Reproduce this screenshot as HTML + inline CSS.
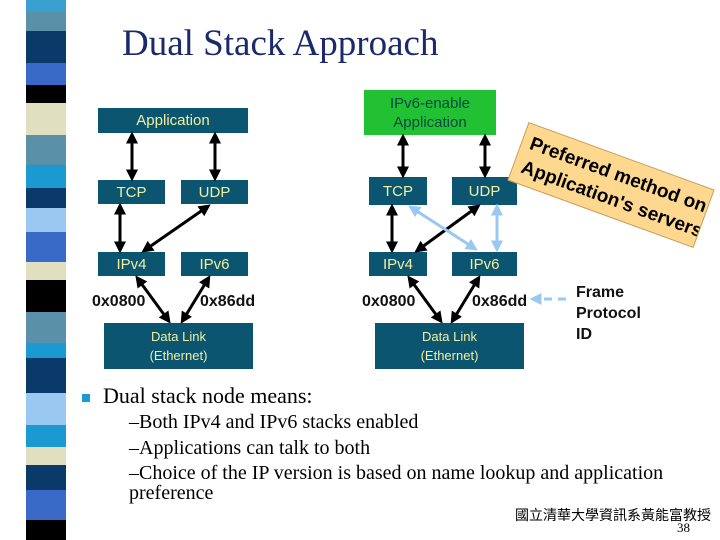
<!DOCTYPE html>
<html><head><meta charset="utf-8"><style>
body{margin:0;width:720px;height:540px;overflow:hidden;background:#fff;position:relative;font-family:"Liberation Sans",sans-serif}
.s{position:absolute;left:26px;width:40px}
.b{position:absolute;background:#0b5570;color:#f0f0a0;font-size:15px;display:flex;align-items:center;justify-content:center;text-align:center;line-height:19px}
.l{position:absolute;font-weight:bold;font-size:16px;color:#111}
.t{position:absolute;font-family:"Liberation Serif",serif;white-space:nowrap;color:#000}
</style></head><body>
<div class="s" style="top:0;height:12px;background:#3aa0d0"></div>
<div class="s" style="top:12px;height:19px;background:#5a90a8"></div>
<div class="s" style="top:31px;height:32px;background:#0a3a6a"></div>
<div class="s" style="top:63px;height:22px;background:#3a6ac8"></div>
<div class="s" style="top:85px;height:18px;background:#000"></div>
<div class="s" style="top:103px;height:32px;background:#e0e0c0"></div>
<div class="s" style="top:135px;height:30px;background:#5a90a8"></div>
<div class="s" style="top:165px;height:23px;background:#1a9ad0"></div>
<div class="s" style="top:188px;height:20px;background:#0a3a6a"></div>
<div class="s" style="top:208px;height:24px;background:#9ac8f0"></div>
<div class="s" style="top:232px;height:30px;background:#3a6ac8"></div>
<div class="s" style="top:262px;height:18px;background:#e0e0c0"></div>
<div class="s" style="top:280px;height:32px;background:#000"></div>
<div class="s" style="top:312px;height:31px;background:#5a90a8"></div>
<div class="s" style="top:343px;height:15px;background:#1a9ad0"></div>
<div class="s" style="top:358px;height:35px;background:#0a3a6a"></div>
<div class="s" style="top:393px;height:32px;background:#9ac8f0"></div>
<div class="s" style="top:425px;height:22px;background:#1a9ad0"></div>
<div class="s" style="top:447px;height:18px;background:#e0e0c0"></div>
<div class="s" style="top:465px;height:25px;background:#0a3a6a"></div>
<div class="s" style="top:490px;height:30px;background:#3a6ac8"></div>
<div class="s" style="top:520px;height:20px;background:#000"></div>

<div class="t" style="left:122px;top:22px;font-size:37px;color:#1a2a6a">Dual Stack Approach</div>

<div class="b" style="left:98px;top:108px;width:150px;height:25px">Application</div>
<div class="b" style="left:98px;top:180px;width:67px;height:24px">TCP</div>
<div class="b" style="left:181px;top:180px;width:67px;height:24px">UDP</div>
<div class="b" style="left:98px;top:252px;width:67px;height:24px">IPv4</div>
<div class="b" style="left:181px;top:252px;width:67px;height:24px">IPv6</div>
<div class="b" style="left:104px;top:323px;width:149px;height:46px;font-size:13px">Data Link<br>(Ethernet)</div>
<div class="l" style="left:92px;top:293px">0x0800</div>
<div class="l" style="left:200px;top:293px">0x86dd</div>

<div class="b" style="left:364px;top:90px;width:132px;height:45px;background:#22c033;color:#0a4a40">IPv6-enable<br>Application</div>
<div class="b" style="left:369px;top:177px;width:58px;height:28px">TCP</div>
<div class="b" style="left:452px;top:177px;width:65px;height:28px">UDP</div>
<div class="b" style="left:369px;top:252px;width:58px;height:24px">IPv4</div>
<div class="b" style="left:452px;top:252px;width:65px;height:24px">IPv6</div>
<div class="b" style="left:375px;top:323px;width:149px;height:46px;font-size:13px">Data Link<br>(Ethernet)</div>
<div class="l" style="left:362px;top:293px">0x0800</div>
<div class="l" style="left:472px;top:293px">0x86dd</div>
<div class="l" style="left:576px;top:282px;line-height:21px">Frame<br>Protocol<br>ID</div>

<div style="position:absolute;left:512px;top:154px;width:198px;height:62px;background:#ffd890;border:1px solid #c8a060;transform:rotate(20deg);font-weight:bold;font-size:19px;line-height:25px;padding-left:8px;box-sizing:border-box;padding-top:6px;white-space:nowrap;overflow:hidden">Preferred method on<br>Application's servers</div>

<svg width="720" height="540" style="position:absolute;left:0;top:0">
<defs>
<marker id="a" markerWidth="4" markerHeight="4" refX="2.5" refY="2" orient="auto-start-reverse" markerUnits="strokeWidth"><path d="M0,0L4,2L0,4z" fill="#000"/></marker>
<marker id="c" markerWidth="4" markerHeight="4" refX="2.5" refY="2" orient="auto-start-reverse" markerUnits="strokeWidth"><path d="M0,0L4,2L0,4z" fill="#9ac8f0"/></marker>
</defs>
<g stroke="#000" stroke-width="3" marker-start="url(#a)" marker-end="url(#a)">
<line x1="132" y1="136" x2="132" y2="177"/>
<line x1="215" y1="136" x2="215" y2="177"/>
<line x1="120" y1="207" x2="120" y2="249"/>
<line x1="207" y1="207" x2="145" y2="250"/>
<line x1="138" y1="279" x2="168" y2="320"/>
<line x1="208" y1="279" x2="183" y2="320"/>
<line x1="403" y1="138" x2="403" y2="174"/>
<line x1="485" y1="138" x2="485" y2="174"/>
<line x1="392" y1="208" x2="392" y2="249"/>
<line x1="477" y1="207" x2="418" y2="250"/>
<line x1="410" y1="279" x2="440" y2="320"/>
<line x1="478" y1="279" x2="453" y2="320"/>
</g>
<g stroke="#9ac8f0" stroke-width="3" marker-start="url(#c)" marker-end="url(#c)">
<line x1="412" y1="208" x2="474" y2="248"/>
<line x1="497" y1="208" x2="497" y2="248"/>
</g>
<line x1="566" y1="299" x2="534" y2="299" stroke="#9ac8f0" stroke-width="3" stroke-dasharray="8,6" marker-end="url(#c)"/>
<rect x="82" y="394" width="8" height="8" fill="#1a9ad0"/>
</svg>

<div class="t" style="left:103px;top:383px;font-size:22px">Dual stack node means:</div>
<div class="t" style="left:129px;top:410px;font-size:20px;line-height:25.5px">–Both IPv4 and IPv6 stacks enabled<br>–Applications can talk to both<br>–Choice of the IP version is based on name lookup and application</div>
<div class="t" style="left:129px;top:482px;font-size:20px">preference</div>
<div class="t" style="left:515px;top:505px;font-size:14px;font-family:'Liberation Sans','Noto Sans CJK TC',sans-serif">國立清華大學資訊系黃能富教授</div>
<div class="t" style="left:677px;top:520px;font-size:13px">38</div>
</body></html>
